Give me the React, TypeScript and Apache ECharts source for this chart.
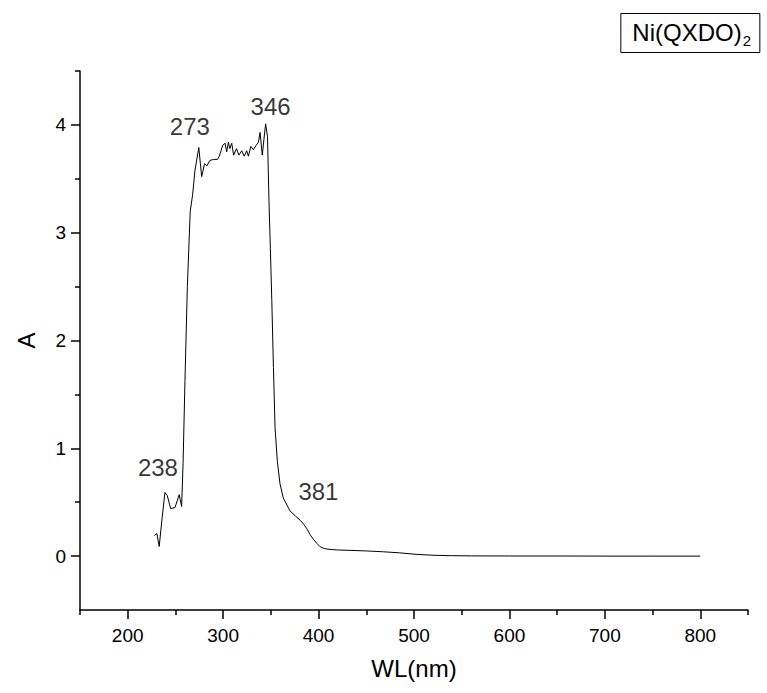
import React, { useEffect, useRef } from "react";
import * as echarts from "echarts";

const wavelength = [
  228, 230.5, 233, 236, 239, 241.5, 245, 249.5, 254, 256.5, 258, 260, 262.5, 265.5, 268, 270.5,
  274.5, 277.5, 280.5, 283, 286, 290, 294, 296, 299.5, 302, 303.7, 305.5, 307, 309, 311, 314,
  316.5, 319.5, 322, 324.7, 326.5, 329, 331.7, 334.5, 337, 338.7, 341, 344.5, 346.5, 348, 349.5,
  351, 352.7, 354.4, 356.8, 359.6, 363, 370, 376, 381, 385, 388, 391, 394.6, 398, 401.6, 406,
  412, 420, 433, 450, 468, 485, 503, 520, 538, 560, 600, 650, 700, 750, 800,
];
const absorbance = [
  0.19, 0.21, 0.09, 0.35, 0.59, 0.56, 0.44, 0.45, 0.57, 0.46, 0.86, 1.63, 2.5, 3.2, 3.35, 3.58,
  3.79, 3.52, 3.64, 3.62, 3.67, 3.68, 3.68, 3.71, 3.81, 3.83, 3.75, 3.84, 3.78, 3.83, 3.72, 3.78,
  3.72, 3.76, 3.71, 3.76, 3.71, 3.8, 3.77, 3.81, 3.84, 3.93, 3.72, 4.01, 3.89, 3.3, 2.85,
  2.37, 1.75, 1.19, 0.88, 0.67, 0.54, 0.42, 0.37, 0.33, 0.29, 0.25, 0.2, 0.155, 0.12, 0.087, 0.07,
  0.062, 0.057, 0.053, 0.048, 0.04, 0.03, 0.016, 0.008, 0.004, 0.002, 0.001, 0.001, 0, 0, 0,
];

const peakLabels = ["238", "273", "346", "381"];
const peakWl = [239, 274.5, 344.5, 381];
const peakA = [0.59, 3.79, 4.01, 0.33];

const xMajorTicks = [200, 300, 400, 500, 600, 700, 800];
const xMinorTicks = [150, 250, 350, 450, 550, 650, 750, 850];
const yMajorTicks = [0, 1, 2, 3, 4];
const yMinorTicks = [0.5, 1.5, 2.5, 3.5, 4.5];

const legendName = "Ni(QXDO)";
const legendSub = "2";

const FONT = "'Liberation Sans', Arial, Helvetica, sans-serif";

export default function App() {
  const ref = useRef<HTMLDivElement>(null);
  useEffect(() => {
    if (!ref.current) return;
    const chart = echarts.init(ref.current, null, { renderer: "svg" });
    const line = { lineStyle: { color: "#000", width: 1.5 } };
    const labelOffsets: number[][] = [
      [-7, -8],
      [-9, -4],
      [5, 0],
      [18, -12],
    ];
    chart.setOption({
      animation: false,
      backgroundColor: "#fff",
      title: {
        text: `{a|${legendName}}{b|${legendSub}}`,
        right: 7,
        top: 9,
        borderColor: "#000",
        borderWidth: 1,
        padding: [7, 9, 5, 12],
        textStyle: {
          fontWeight: "normal",
          rich: {
            a: { fontSize: 24, fontFamily: FONT, color: "#000", fontWeight: "normal", lineHeight: 29 },
            b: {
              fontSize: 15,
              fontFamily: FONT,
              color: "#000",
              fontWeight: "normal",
              padding: [17, 0, 0, 1],
            },
          },
        },
      },
      grid: { left: 80, top: 71, right: 19, bottom: 83, containLabel: false },
      xAxis: [
        {
          type: "value",
          min: 150,
          max: 850,
          position: "bottom",
          name: "WL(nm)",
          nameLocation: "middle",
          nameGap: 46,
          nameTextStyle: { fontSize: 24, fontFamily: FONT, color: "#000" },
          axisLine: { show: true, onZero: false, ...line },
          axisTick: { show: true, length: 9, customValues: xMajorTicks, ...line },
          axisLabel: {
            customValues: xMajorTicks,
            fontSize: 19,
            fontFamily: FONT,
            color: "#000",
            margin: 16,
          },
          splitLine: { show: false },
        },
        {
          type: "value",
          min: 150,
          max: 850,
          position: "bottom",
          offset: 0,
          axisLine: { show: false, onZero: false },
          axisTick: { show: true, length: 5, customValues: xMinorTicks, ...line },
          axisLabel: { show: false },
          splitLine: { show: false },
        },
      ],
      yAxis: [
        {
          type: "value",
          min: -0.5,
          max: 4.5,
          position: "left",
          name: "A",
          nameLocation: "middle",
          nameGap: 42,
          nameRotate: 90,
          nameTextStyle: { fontSize: 24, fontFamily: FONT, color: "#000" },
          axisLine: { show: true, onZero: false, ...line },
          axisTick: { show: true, length: 9, customValues: yMajorTicks, ...line },
          axisLabel: {
            customValues: yMajorTicks,
            fontSize: 19,
            fontFamily: FONT,
            color: "#000",
            margin: 14,
          },
          splitLine: { show: false },
        },
        {
          type: "value",
          min: -0.5,
          max: 4.5,
          position: "left",
          offset: 0,
          axisLine: { show: false, onZero: false },
          axisTick: { show: true, length: 5, customValues: yMinorTicks, ...line },
          axisLabel: { show: false },
          splitLine: { show: false },
        },
      ],
      series: [
        {
          type: "line",
          xAxisIndex: 0,
          yAxisIndex: 0,
          data: wavelength.map((w, i) => [w, absorbance[i]]),
          showSymbol: false,
          symbol: "none",
          lineStyle: { color: "#000", width: 1 },
          silent: true,
        },
        {
          type: "scatter",
          xAxisIndex: 0,
          yAxisIndex: 0,
          symbolSize: 0,
          data: peakWl.map((w, i) => ({
            value: [w, peakA[i]],
            name: peakLabels[i],
            label: { offset: labelOffsets[i] },
          })),
          label: {
            show: true,
            position: "top",
            formatter: (p: any) => p.name,
            fontSize: 24,
            fontFamily: FONT,
            color: "#000",
          },
          silent: true,
        },
      ],
    });
    return () => chart.dispose();
  }, []);
  return (
    <div
      ref={ref}
      style={{ position: "fixed", left: 0, top: 0, width: 767, height: 693, background: "#fff" }}
    />
  );
}
